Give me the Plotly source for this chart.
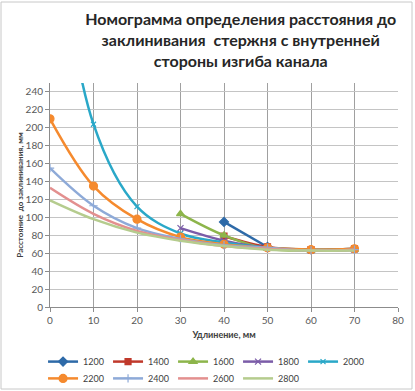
import plotly.graph_objects as go

names = ["1200", "1400", "1600", "1800", "2000", "2200", "2400", "2600", "2800"]
x_1200 = [40, 50]
y_1200 = [95, 67]
x_1400 = [40, 50, 60, 70]
y_1400 = [79, 67, 64, 65]
x_1600 = [30, 40, 50, 60, 70]
y_1600 = [104, 80, 65, 63, 64]
x_1800 = [30, 40, 50, 60, 70]
y_1800 = [88, 74, 66, 63, 64]
x_2000 = [0, 10, 20, 30, 40, 50, 60, 70]
y_2000 = [480, 204, 112, 82, 72, 66, 64, 65]
x_2200 = [0, 10, 20, 30, 40, 50, 60, 70]
y_2200 = [210, 135, 98, 78, 70, 66, 64, 65]
x_2400 = [0, 10, 20, 30, 40, 50, 60, 70]
y_2400 = [155, 113, 88, 76, 69, 66, 63, 64]
x_2600 = [0, 10, 20, 30, 40, 50, 60, 70]
y_2600 = [133, 104, 85, 75, 68, 65, 63, 64]
x_2800 = [0, 10, 20, 30, 40, 50, 60, 70]
y_2800 = [119, 98, 83, 74, 68, 64, 63, 63]

xs = [x_1200, x_1400, x_1600, x_1800, x_2000, x_2200, x_2400, x_2600, x_2800]
ys = [y_1200, y_1400, y_1600, y_1800, y_2000, y_2200, y_2400, y_2600, y_2800]
colors = ["#2E6AA8", "#C0392B", "#8DB54B", "#7B5CA8", "#2AA8C8",
          "#F58A2E", "#8EAAD8", "#E3908F", "#B5CC8E"]
symbols = ["diamond", "square", "triangle-up", "x-thin", "x-thin",
           "circle", "cross-thin", None, None]
msizes = [7, 6, 7, 6, 5, 8, 6, 6, 6]

fig = go.Figure()
for i, n in enumerate(names):
    sym = symbols[i]
    mode = "lines+markers" if sym else "lines"
    marker = dict(color=colors[i], size=msizes[i], symbol=sym or "circle",
                  line=dict(color=colors[i], width=1.2))
    fig.add_trace(go.Scatter(
        x=xs[i], y=ys[i], name=n, mode=mode,
        line=dict(color=colors[i], width=2.5, shape="spline"),
        marker=marker,
        legend="legend" if i < 5 else "legend2",
    ))

axis_font = dict(family="Lato, Liberation Sans, sans-serif", size=10, color="#595959")
leg_font = dict(family="Lato, sans-serif", size=9, color="#404040")
fig.update_layout(
    width=415, height=391,
    margin=dict(l=50, r=17, t=83, b=84, autoexpand=False),
    paper_bgcolor="white", plot_bgcolor="white",
    title=dict(
        text="Номограмма определения расстояния до<br>заклинивания  стержня с внутренней<br>стороны изгиба канала",
        x=0.58, xanchor="center", y=0.936, yanchor="top",
        font=dict(family="Lato, Open Sans, sans-serif", size=16, color="#262626", weight="bold"),
    ),
    xaxis=dict(
        range=[0, 80], dtick=10, tick0=0,
        showgrid=True, gridcolor="#A0A0A0", gridwidth=1,
        showline=True, linecolor="#8C8C8C", linewidth=1,
        ticks="outside", ticklen=4, tickcolor="#8C8C8C",
        tickfont=axis_font, zeroline=False,
        title=dict(text="<b>Удлинение, мм</b>", standoff=6,
                   font=dict(family="Lato, sans-serif", size=9, color="#404040")),
    ),
    yaxis=dict(
        range=[0, 250], dtick=20, tick0=0,
        showgrid=True, gridcolor="#C4C4C4", gridwidth=1,
        showline=True, linecolor="#8C8C8C", linewidth=1,
        ticks="outside", ticklen=4, tickcolor="#8C8C8C",
        tickfont=axis_font, zeroline=False,
        title=dict(text="<b>Расстояние  до заклинивания, мм</b>", standoff=0,
                   font=dict(family="Lato, sans-serif", size=8, color="#404040")),
    ),
    legend=dict(orientation="h", x=-0.02, xanchor="left", y=-0.179, yanchor="top",
                font=leg_font, itemwidth=30, entrywidth=20, entrywidthmode="pixels",
                tracegroupgap=0, bgcolor="rgba(0,0,0,0)"),
    legend2=dict(orientation="h", x=-0.02, xanchor="left", y=-0.254, yanchor="top",
                 font=leg_font, itemwidth=30, entrywidth=20, entrywidthmode="pixels",
                 tracegroupgap=0, bgcolor="rgba(0,0,0,0)"),
    shapes=[dict(type="rect", xref="paper", yref="paper",
                 x0=-49/348, x1=1 + 14/348, y0=-82/224, y1=1 + 81/224,
                 line=dict(color="#C8C8C8", width=1), layer="below")],
)

fig.write_html("out.html", config={"displayModeBar": False},
               post_script="document.body.style.margin='0';document.body.style.overflow='hidden';")
